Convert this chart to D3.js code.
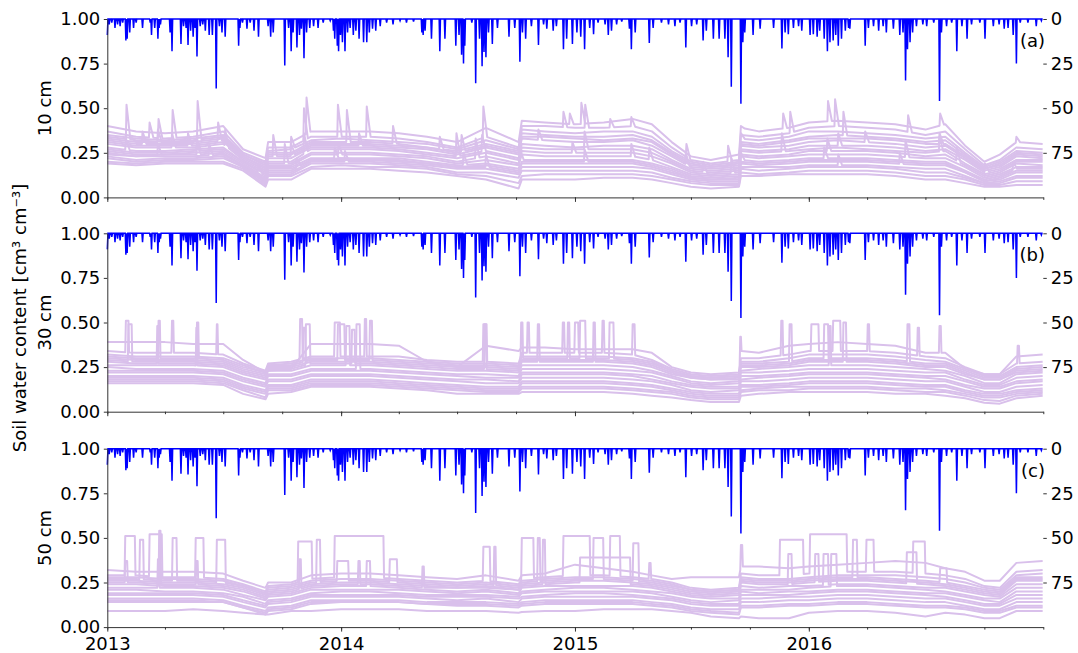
<!DOCTYPE html>
<html>
<head>
<meta charset="utf-8">
<script src="https://cdn.jsdelivr.net/npm/d3@7"></script>
<style>
  body { margin: 0; background: #ffffff; }
  svg text { font-family: "DejaVu Sans", sans-serif; }
</style>
</head>
<body>
<svg id="chart" width="1078" height="653"></svg>
<script>
// ---------------- data ----------------
// Sampling dates of the soil water content traces
const knotDates = [
  "2013-01-01","2013-02-15","2013-04-01","2013-05-15","2013-07-01","2013-08-01","2013-09-05","2013-09-09","2013-10-15","2013-11-15",
  "2014-01-01","2014-02-15","2014-04-01","2014-05-15","2014-07-01","2014-08-15","2014-10-05","2014-10-10","2014-11-15",
  "2015-01-01","2015-02-15","2015-04-01","2015-05-01","2015-06-01","2015-07-01","2015-08-01","2015-09-14","2015-09-17","2015-10-15","2015-12-01",
  "2016-01-01","2016-02-15","2016-04-01","2016-05-15","2016-07-01","2016-08-01","2016-09-01","2016-10-01","2016-10-25","2016-11-20","2016-12-31"
];

const depthLabels = ["10 cm", "30 cm", "50 cm"];
const panelTags = ["(a)", "(b)", "(c)"];
const yearLabels = ["2013", "2014", "2015", "2016"];
const leftTicks = [0, 0.25, 0.5, 0.75, 1];
const rightTicks = [0, 25, 50, 75];

// Soil water content per sensor, in % volume (one row per sensor)
const swc10 = [
  [40,37,36,37,40,27,22,31,31,37,37,37,36,34,31,39,31,43,42,41,42,44,41,31,23,21,24,39,37,39,42,43,42,41,38,41,29,20,24,31,30],
  [37,34,33,34,37,25,20,28,28,34,34,34,33,31,28,34,28,40,40,39,39,40,37,28,21,19,21,35,34,36,39,40,39,38,35,37,27,18,21,28,27],
  [34,32,31,32,34,24,18,25,25,31,31,31,30,28,26,30,26,36,35,34,34,35,32,25,19,17,19,31,30,32,34,35,34,33,31,32,24,16,19,25,24],
  [32,30,30,30,32,23,16,23,23,29,29,29,28,27,24,28,24,33,32,31,31,32,29,23,17,16,17,29,28,29,31,32,31,30,28,29,22,15,17,23,22],
  [31,29,29,29,31,22,15,22,22,28,28,28,27,25,23,26,22,30,29,28,29,29,27,21,16,15,16,27,26,27,29,29,29,28,26,27,21,14,16,21,21],
  [30,28,28,28,30,21,14,20,20,27,27,27,26,24,22,25,21,28,27,27,27,27,25,20,15,14,15,26,25,26,27,28,27,26,25,26,19,13,15,20,20],
  [28,26,26,27,28,20,13,19,19,25,25,25,24,23,20,23,19,26,25,25,25,25,23,19,14,13,14,24,23,24,26,26,26,25,23,24,18,12,14,19,18],
  [27,25,25,26,27,20,12,18,18,24,24,24,23,22,19,21,18,24,23,23,23,23,21,17,13,12,13,23,22,23,24,24,24,23,22,22,17,11,13,17,17],
  [26,24,24,25,26,19,11,17,17,22,22,22,22,20,18,19,16,21,21,21,21,21,19,16,12,11,12,21,20,21,22,22,22,21,20,20,15,10,12,16,16],
  [24,23,23,23,24,18,10,15,15,21,21,21,20,19,17,17,14,19,19,19,19,19,17,14,11,10,10,19,18,19,20,20,20,19,18,18,14,9,10,14,14],
  [22,20,21,21,22,17,8,13,13,19,19,19,18,17,14,14,11,15,15,15,15,15,14,11,9,8,8,16,15,16,17,17,17,16,14,14,11,8,8,11,11],
  [19,18,19,19,19,15,6,10,10,16,16,16,15,14,12,10,5,10,10,10,11,11,10,8,6,5,6,12,12,13,13,13,13,12,10,10,8,6,6,7,7],
  [35,33,32,33,35,24,19,26,27,32,33,32,31,30,27,32,27,38,37,36,37,37,34,26,20,18,20,33,32,34,37,37,36,35,33,34,25,17,20,26,25],
  [33,31,31,31,33,23,17,24,24,30,30,30,29,28,25,29,25,34,34,33,32,33,31,24,18,17,18,30,29,31,33,33,33,32,30,30,23,16,18,24,23],
  [25,23,24,24,25,18,10,16,16,21,22,21,21,19,17,18,15,20,20,20,20,20,18,15,11,10,11,20,19,20,21,21,21,20,19,19,14,9,11,15,15],
  [23,21,22,22,23,17,9,14,14,20,20,20,19,18,16,16,13,17,17,17,17,17,16,13,10,9,9,17,17,17,18,18,18,17,16,16,12,8,9,12,12],
  [20,19,20,20,20,16,7,12,12,17,18,17,17,16,13,12,8,12,13,13,13,13,12,10,8,7,7,14,13,14,15,15,15,14,12,12,10,7,7,9,9]
];

const swc30 = [
  [39,39,39,38,38,29,22,23,24,38,38,38,37,28,25,37,34,36,36,35,35,35,33,25,22,21,22,34,33,37,38,39,38,37,33,33,24,21,21,31,32],
  [34,33,33,33,32,27,23,27,28,31,31,31,31,29,28,28,27,33,33,33,33,32,29,24,21,20,21,30,30,32,34,34,34,33,31,30,25,21,21,27,28],
  [31,30,30,30,29,25,22,26,26,29,29,29,28,27,26,26,25,30,30,30,30,29,27,23,20,19,20,27,27,28,30,30,30,29,27,27,23,19,19,24,25],
  [29,28,28,28,27,23,20,24,24,27,27,27,26,25,24,24,23,28,28,28,28,27,25,21,19,18,18,25,25,26,28,28,28,27,25,25,21,18,18,22,23],
  [28,27,27,27,26,22,19,23,23,26,26,26,25,24,23,23,22,26,26,26,26,25,23,20,17,16,17,23,24,25,26,26,26,25,24,23,20,16,16,21,22],
  [26,26,26,26,25,21,18,21,21,24,24,24,23,22,21,21,20,24,24,24,24,23,22,19,16,15,16,22,22,23,24,24,24,23,22,22,18,15,15,19,20],
  [25,24,24,24,23,19,16,20,20,23,23,23,22,21,20,19,19,22,22,22,22,21,20,17,15,14,14,20,20,21,22,22,22,21,20,20,17,14,14,17,18],
  [23,23,23,23,22,18,15,18,18,21,21,21,20,19,18,18,17,21,21,21,21,20,18,16,14,13,13,18,19,20,21,21,21,20,19,18,15,13,13,16,17],
  [22,22,22,22,21,17,14,17,17,20,20,20,19,18,17,16,16,19,19,19,19,18,17,15,12,11,12,17,17,18,19,19,19,18,17,17,14,11,11,14,15],
  [20,20,20,20,19,15,12,15,15,18,18,18,17,16,15,14,14,17,17,17,17,16,15,13,11,10,10,15,15,16,17,17,17,16,15,15,12,10,10,12,13],
  [18,18,18,18,17,13,10,13,13,16,16,16,15,14,13,12,12,14,14,14,14,13,12,11,9,8,8,12,13,14,14,14,14,13,13,12,10,8,8,10,11],
  [16,16,16,16,15,10,7,10,11,14,14,14,13,12,10,10,10,11,11,11,11,10,9,8,6.5,5.5,5.5,9,10,11,11,11,11,10,10,9,7.5,5,4.5,7.5,9],
  [32,31,31,31,30,26,22,26,27,30,30,30,29,28,27,27,26,31,31,31,31,30,28,23,20,19,20,28,28,30,32,32,32,31,29,28,24,20,20,25,26],
  [30,29,29,29,28,24,21,25,25,28,28,28,27,26,25,25,24,29,29,29,29,28,26,22,19,18,19,26,26,27,29,29,29,28,26,26,22,18,18,23,24],
  [19,19,19,19,18,14,11,14,14,17,17,17,16,15,14,13,13,16,16,16,16,15,14,12,10,9,9,14,14,15,16,16,16,15,14,14,11,9,9,11,12],
  [17,17,17,17,16,12,8,12,12,15,15,15,14,13,12,11,11,13,13,13,13,12,11,10,8,7,7,11,12,12,13,13,13,12,11,11,9,6.5,6,9,10]
];

const swc50 = [
  [32,31,31,31,30,26,22,25,25,29,30,30,29,28,27,29,26,29,30,35,33,31,29,27,28,28,28,34,34,33,34,35,36,37,36,33,31,26,26,36,37],
  [29,29,28,28,27,24,20,23,24,27,28,28,27,26,25,26,24,27,28,29,29,28,27,25,22,21,22,30,29,29,30,31,31,31,30,29,27,23,22,31,32],
  [27,27,26,26,25,23,19,21,22,25,26,26,25,24,23,24,22,25,26,27,27,26,25,23,21,20,21,27,26,26,27,28,28,27,26,25,23,21,20,28,28],
  [25,25,24,24,23,21,17,19,20,23,24,24,23,22,22,22,21,23,24,25,25,24,23,21,19,18,19,25,24,24,25,26,26,25,24,23,21,19,18,26,26],
  [24,24,23,23,22,20,16,18,19,22,23,23,22,21,20,21,19,22,23,23,23,23,22,20,18,17,18,23,22,23,23,24,24,23,22,22,20,18,17,24,24],
  [22,22,22,22,21,18,15,17,18,21,21,21,21,20,19,20,18,20,21,22,22,21,20,19,17,16,16,21,21,21,22,23,23,22,21,20,18,16,16,22,22],
  [21,21,20,20,19,17,13,15,16,19,20,20,19,18,18,18,17,19,20,20,20,20,19,17,15,14,15,20,19,20,20,21,21,20,19,19,17,15,14,20,20],
  [19,19,19,19,18,15,12,14,15,18,18,18,18,17,17,17,16,17,18,19,19,18,17,16,14,13,13,18,18,18,19,20,20,19,18,17,15,13,13,18,18],
  [18,18,18,18,17,14,11,13,14,17,17,17,17,16,15,16,14,16,17,17,17,17,16,15,13,12,12,16,16,17,17,18,18,17,16,16,14,12,12,16,16],
  [16,16,16,16,15,12,9,11,12,15,15,15,15,14,14,14,13,14,15,15,15,15,14,13,11,10,10,14,14,15,15,16,16,15,14,14,12,10,10,14,14],
  [14,14,14,14,14,11,7,9,10,13,14,14,14,13,12,12,11,12,13,13,13,13,12,11,9,8,7,11,11,12,12,13,13,12,11,11,10,8,8,11,11],
  [9,9,9,10,9,8,7,7,9,9,10,10,10,9,9,9,8,8.5,9,9,10,10,10,9,8,6,5,6,5,5,8,9,9,8,6,8,7,5,5,9,9],
  [28,28,27,27,26,23,19,22,23,26,27,27,26,25,24,25,23,26,27,28,28,27,26,24,21,20,21,28,27,27,28,29,29,29,28,27,25,22,21,29,30],
  [26,26,25,25,24,22,18,20,21,24,25,25,24,23,22,23,21,24,25,26,26,25,24,22,20,19,20,26,25,25,26,27,27,26,25,24,22,20,19,27,27],
  [15,15,15,15,14,11,8,10,11,14,14,14,14,13,13,13,12,13,14,14,14,14,13,12,10,9,8,12,12,13,13,14,14,13,12,12,11,9,9,12,12]
];

// Short wetting peaks and sensor plateaus: [sensor, first day, last day, level %]
// (days counted from 2013-01-01)
const peaks10 = [
  [2,30,30,52],[1,66,66,42],[1,80,80,44],[1,102,102,49],[2,141,141,54],[3,173,173,42],[3,259,259,35],
  [1,307,307,50],[0,311,311,56],[1,360,360,52],[2,374,374,49],[1,405,405,51],[2,446,446,40],[4,545,545,36],
  [1,587,587,51],[1,712,712,48],[0,722,722,47],[0,740,740,53],[1,746,746,52],[1,785,785,44],[1,818,818,45],
  [1,904,904,30],[1,969,969,29],[0,989,989,40],[0,1055,1055,47],[1,1066,1066,48],[0,1125,1125,54],
  [1,1136,1136,55],[2,1149,1149,48],[1,1250,1250,46],[0,1300,1300,47],[0,1419,1419,34],
  [5,101,101,36],[7,140,140,33],[6,277,277,30],[5,307,307,36],[7,361,361,30],[6,575,575,33],[4,585,585,35],
  [8,644,644,27],[5,745,745,37],[7,818,818,30],[6,974,974,22],[8,989,989,25],[5,1053,1053,36],
  [6,1124,1124,33],[4,1141,1141,36],[7,1246,1246,32],[5,1299,1299,34],[6,1326,1326,28],
  [6,29,29,33],[3,55,55,37],[8,79,79,30],[4,126,126,36],[9,159,159,30],[5,184,184,38],[7,236,236,19],
  [3,287,287,30],[9,296,296,22],[8,355,355,28],[3,393,393,36],[2,519,519,34],[8,556,556,25],[9,591,591,24],
  [3,673,673,38],[6,726,726,31],[7,846,846,28],[3,903,903,25],[5,930,930,20],[8,1119,1119,28],
  [3,1183,1183,37],[9,1237,1237,25],[4,1370,1370,19],[8,1414,1414,20],
  [13,79,79,38],[14,140,140,29],[12,287,287,34],[15,371,371,26],[13,553,553,35],[14,745,745,27],
  [12,989,989,36],[15,1141,1141,24],[13,1299,1299,36]
];

const peaks30 = [
  [1,29,33,51],[3,33,38,49],[2,80,82,51],[4,78,79,48],[1,101,103,51],[2,140,142,50],[5,139,140,47],
  [1,171,172,49],[1,301,304,52],[3,310,316,49],[2,306,309,47],[1,355,363,50],[2,360,370,49],[4,373,378,48],
  [3,382,386,46],[5,389,394,49],[1,402,404,52],[2,410,413,51],[1,587,592,49],[3,589,591,49],[2,646,648,50],
  [1,656,658,50],[3,672,674,49],[1,711,713,50],[2,719,721,50],[1,730,735,50],[2,738,746,51],[3,759,761,50],
  [1,773,775,51],[2,784,790,50],[1,820,823,49],[0,988,989,42],[1,1052,1054,51],[2,1065,1068,49],
  [1,1099,1110,49],[2,1119,1125,49],[4,1127,1129,48],[1,1133,1144,51],[3,1149,1153,50],[1,1187,1189,49],
  [2,1249,1252,49],[1,1265,1267,47],[0,1299,1301,48],[1,1421,1423,37]
];

const peaks50 = [
  [1,28,43,51],[3,28,31,37],[2,51,56,49],[1,66,85,52],[4,81,83,54],[5,79,81,38],[2,102,108,50],
  [1,138,150,50],[3,139,141,37],[2,171,184,49],[1,298,319,48],[3,300,302,38],[2,327,332,49],
  [1,355,431,51],[2,359,376,37],[3,392,394,37],[4,405,410,37],[2,441,452,38],[3,492,494,34],
  [1,587,597,45],[2,604,606,45],[1,647,665,50],[2,672,675,50],[3,680,683,49],[1,712,753,51],
  [2,759,774,50],[1,785,800,51],[3,738,816,39],[2,821,829,47],[1,846,848,36],[0,989,991,46],
  [1,1050,1086,49],[3,1063,1068,41],[1,1097,1154,52],[3,1105,1110,41],[4,1118,1125,41],[5,1130,1138,41],
  [2,1164,1170,49],[1,1185,1196,49],[3,1248,1263,42],[1,1258,1276,48],[2,1300,1310,33]
];

// Daily precipitation [mm]: day number (from 2013-01-01) and amount
const rainDay = [
  0,3,7,12,16,20,24,29,31,35,41,45,55,67,69,74,79,81,83,98,101,115,119,123,126,130,134,137,140,145,149,153,159,164,
  170,175,179,184,205,207,211,218,223,229,236,251,255,259,277,283,287,290,296,300,303,307,311,316,322,329,337,348,
  353,355,359,361,364,367,371,375,379,384,388,393,400,405,409,414,419,426,436,446,457,467,478,491,493,496,
  506,519,527,544,549,553,556,558,569,575,581,585,588,591,595,601,609,627,636,644,648,653,662,673,681,686,696,701,
  712,717,726,733,739,745,753,759,766,777,782,787,795,803,815,818,824,846,852,865,876,886,894,903,912,920,930,935,
  946,955,964,969,974,989,992,995,1008,1019,1040,1053,1058,1063,1071,1079,1084,1097,1102,1108,1112,1119,1124,1128,
  1133,1137,1141,1146,1152,1157,1159,1183,1188,1196,1204,1211,1216,1227,1237,1242,1246,1249,1253,1257,1263,1273,
  1279,1290,1299,1302,1310,1318,1326,1334,1342,1349,1362,1370,1383,1392,1400,1406,1414,1419,1425,1437,1450,1458
];
const rainMm = [
  9,3,2,5,3,4,2,12,11,7.5,5,2,5,2,9,5,11,5,3,7.5,18,14,4,5,14.5,6.5,10,5,21,4,3,6.5,9,9,
  39,4,7.5,10,15,5,2,5.5,2,6.5,10,4,10,7.5,26,5,18,7.5,16,9,5.5,22,7.5,5,4,5,2,1,
  6.5,11,15,18,9,13,18,7.5,5,9,6.5,11,13,13,7.5,5.5,6.5,4,2,3,1,2,1.5,7.5,9,6.5,
  11,18,11,15,9,20,25,15,2,36,11,26.5,18.5,21.5,7.5,14,5,10,5,24,7.5,11,4,14.5,3,5.5,6.5,4,
  17,11,14,7.5,10,17,5,8.5,2,3,9,6.5,3,1.5,5.5,17,7.5,13.5,5,2,3,4,2,16,4,3,12,6.5,
  11,11,11,21.5,38,47.5,13,7.5,9,5.5,5,16.5,7.5,8.5,5,4,6.5,9,8.5,10,6.5,11,18,13,
  12,9,15,11,6.5,5,5.5,15,5,4,6.5,4,7.5,5.5,9,7.5,34.5,17,13,7.5,4,3,
  4,2,46,7.5,4,2,18,4,11,3,2,11,4,3,5.5,5,9,25,2,2,4,1
];

// ---------------- layout ----------------
const svg = d3.select("#chart");
const plotLeft = 107.3, plotRight = 1043.3;
const panelTops = [19, 233.3, 448.7];
const panelH = 178.4;
const soilColor = "#d9c0eb";
const rainColor = "#0000ff";
const axisFont = 18;

const parse = d3.utcParse("%Y-%m-%d");
const t0 = parse("2013-01-01");
const tEnd = parse("2017-01-01");
const dayT = d => d3.utcDay.offset(t0, d);
const knotT = knotDates.map(parse);

const x = d3.scaleUtc().domain([t0, tEnd]).range([plotLeft, plotRight]);

// daily precipitation record (days without a listed amount had no rain)
const nDays = d3.utcDay.count(t0, tEnd);
const rainSeries = d3.range(nDays).map(d => ({ t: dayT(d), v: 0 }));
rainDay.forEach((d, i) => { rainSeries[d].v = rainMm[i]; });

function sensorPoints(vals, peaks, si, recede) {
  const base = knotT.map((t, i) => ({ t: +t, v: vals[i] / 100 }));
  const bis = d3.bisector(d => d.t).right;
  const at = t => {
    const i = bis(base, t);
    if (i <= 0) return base[0].v;
    if (i >= base.length) return base[base.length - 1].v;
    const a = base[i - 1], b = base[i];
    return a.v + (b.v - a.v) * (t - a.t) / (b.t - a.t);
  };
  let pts = base.slice();
  peaks.filter(p => p[0] === si).forEach(([, s, e, lvl]) => {
    const ta = +dayT(s - 1), tb = +dayT(s), tc = +dayT(e), td = +dayT(e + recede);
    pts = pts.filter(p => p.t < ta || p.t > td);
    pts.push({ t: ta, v: at(ta) }, { t: tb, v: lvl / 100 });
    if (e > s) pts.push({ t: tc, v: lvl / 100 });
    pts.push({ t: td, v: at(td) });
  });
  pts.sort((a, b) => a.t - b.t);
  return pts;
}

const panels = [
  { data: swc10, peaks: peaks10, recede: 6 },
  { data: swc30, peaks: peaks30, recede: 1 },
  { data: swc50, peaks: peaks50, recede: 1 }
];

const quarterTicks = d3.utcMonth.every(3).range(t0, d3.utcDay.offset(tEnd, 1));
const yearTicks = d3.utcYear.range(t0, tEnd);

panels.forEach((p, k) => {
  const top = panelTops[k];
  const y = d3.scaleLinear().domain([0, 1]).range([top + panelH, top]);
  const yr = d3.scaleLinear().domain([0, 100]).range([top, top + panelH]);
  const g = svg.append("g");

  const line = d3.line().x(d => x(d.t)).y(d => y(d.v));
  p.data.forEach((vals, si) => {
    g.append("path")
      .attr("d", line(sensorPoints(vals, p.peaks, si, p.recede)))
      .attr("fill", "none")
      .attr("stroke", soilColor)
      .attr("stroke-width", 2)
      .attr("stroke-linejoin", "round");
  });

  const rainLine = d3.line().x(d => x(d.t)).y(d => yr(d.v));
  g.append("path")
    .attr("d", rainLine(rainSeries))
    .attr("fill", "none")
    .attr("stroke", rainColor)
    .attr("stroke-width", 1.5);

  // left axis
  const la = g.append("g").attr("transform", `translate(${plotLeft},0)`)
    .call(d3.axisLeft(y).tickValues(leftTicks).tickFormat(d3.format(".2f"))
      .tickSize(3.5).tickPadding(3.5).tickSizeOuter(0));
  la.selectAll("text").attr("font-size", axisFont).attr("fill", "#000");
  la.selectAll("line,path").attr("stroke", "#333").attr("stroke-width", 1);

  // right axis (precipitation, reversed)
  const ra = g.append("g").attr("transform", `translate(${plotRight},0)`)
    .call(d3.axisRight(yr).tickValues(rightTicks).tickSize(3.5).tickPadding(4));
  ra.select(".domain").remove();
  ra.selectAll("text").attr("font-size", axisFont).attr("fill", "#000");
  ra.selectAll("line").attr("stroke", "#333");

  // bottom axis: quarterly minor ticks, yearly major ticks
  const bottomY = top + panelH;
  const ma = g.append("g").attr("transform", `translate(0,${bottomY})`)
    .call(d3.axisBottom(x).tickValues(quarterTicks).tickFormat("").tickSize(2.5).tickSizeOuter(0));
  ma.selectAll("line,path").attr("stroke", "#333").attr("stroke-width", 1);
  const ya = g.append("g").attr("transform", `translate(0,${bottomY})`)
    .call(d3.axisBottom(x).tickValues(yearTicks)
      .tickFormat((d, i) => k === 2 ? yearLabels[i] : "")
      .tickSize(4.5).tickPadding(6).tickSizeOuter(0));
  ya.select(".domain").remove();
  ya.selectAll("line").attr("stroke", "#333");
  ya.selectAll("text").attr("font-size", axisFont).attr("fill", "#000");

  // depth label
  g.append("text")
    .attr("transform", `translate(45,${top + panelH / 2}) rotate(-90)`)
    .attr("text-anchor", "middle")
    .attr("dy", "0.35em")
    .attr("font-size", axisFont)
    .text(depthLabels[k]);

  // panel tag
  g.append("text")
    .attr("x", 1045).attr("y", top + 28)
    .attr("text-anchor", "end")
    .attr("font-size", axisFont)
    .text(panelTags[k]);
});

svg.append("text")
  .attr("transform", "translate(20,318) rotate(-90)")
  .attr("text-anchor", "middle")
  .attr("dy", "0.35em")
  .attr("font-size", axisFont)
  .text("Soil water content [cm³ cm⁻³]");
</script>
</body>
</html>
